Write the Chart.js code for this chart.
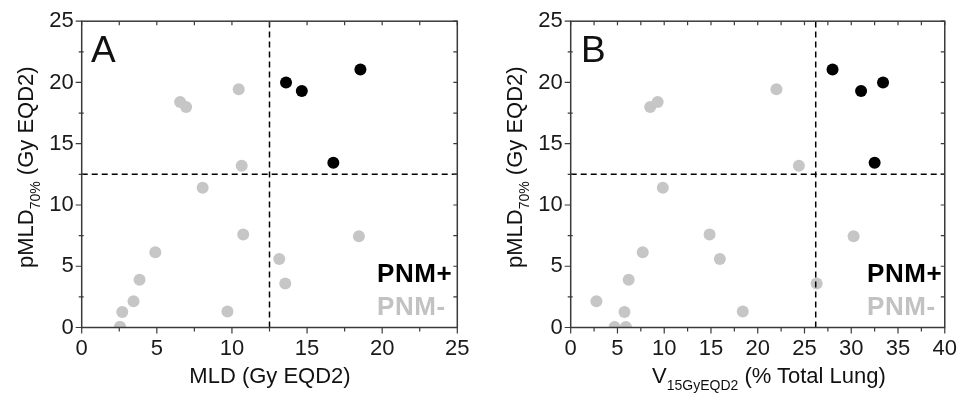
<!DOCTYPE html>
<html>
<head>
<meta charset="utf-8">
<script src="https://cdn.jsdelivr.net/npm/chart.js@4.4.1/dist/chart.umd.min.js"></script>
<style>
  body { margin: 0; background: #fff; }
  #wrap { position: relative; width: 965px; height: 396px; overflow: hidden;
          font-family: "Liberation Sans", Arial, sans-serif; color: #111; }
  canvas { position: absolute; top: 0; }
  .lbl { position: absolute; white-space: nowrap; line-height: 1; }
  .panel { font-size: 37px; }
  .pnm { font-size: 26px; font-weight: bold; letter-spacing: 0.6px; }
  .plus { color: #000; }
  .minus { color: #c2c2c2; }
  .xt { font-size: 22px; }
  .yt { font-size: 22px; transform: rotate(-90deg); transform-origin: left top; }
  sub { font-size: 14px; vertical-align: -7px; line-height: 0; }
</style>
</head>
<body>
<div id="wrap">
  <canvas id="chartA" width="482" height="396" style="left:0"></canvas>
  <canvas id="chartB" width="483" height="396" style="left:482px"></canvas>

  <div class="lbl panel" style="left:91px; top:31px;">A</div>
  <div class="lbl panel" style="left:581px; top:31px;">B</div>

  <div class="lbl pnm plus" style="left:377px; top:260px;">PNM+</div>
  <div class="lbl pnm minus" style="left:377px; top:293px;">PNM-</div>
  <div class="lbl pnm plus" style="left:867px; top:260px;">PNM+</div>
  <div class="lbl pnm minus" style="left:867px; top:293px;">PNM-</div>

  <div class="lbl xt" style="left:270px; top:365px; transform:translateX(-50%);">MLD (Gy EQD2)</div>
  <div class="lbl xt" style="left:652px; top:365px;">V<sub>15GyEQD2</sub> (% Total Lung)</div>

  <div class="lbl yt" style="left:15px; top:268px;">pMLD<sub>70%</sub> (Gy EQD2)</div>
  <div class="lbl yt" style="left:504px; top:268px;">pMLD<sub>70%</sub> (Gy EQD2)</div>
</div>

<script>
// pMLD70% values (Gy EQD2), shared by both panels
let pnmPlusY = [20.0, 19.3, 21.05, 13.45];
let pnmMinusY = [18.4, 18.0, 19.45, 13.2, 11.4, 7.6, 7.45, 6.15, 5.6, 3.9, 3.6, 2.15, 1.27, 1.3, 0.05, 0.05];

// panel A: MLD (Gy EQD2)
let pnmPlusMld = [13.6, 14.65, 18.55, 16.75];
let pnmMinusMld = [6.55, 6.95, 10.45, 10.65, 8.05, 10.75, 18.45, 4.9, 13.15, 3.85, 13.55, 3.45, 2.7, 9.7, 2.55, 2.55];

// panel B: V15GyEQD2 (% total lung)
let pnmPlusV15 = [33.4, 31.05, 28.0, 32.5];
let pnmMinusV15 = [9.3, 8.5, 22.0, 24.4, 9.85, 14.85, 30.25, 7.7, 15.95, 6.2, 26.3, 2.75, 5.75, 18.4, 4.7, 5.9];

// cut-off values (dashed lines)
let yCutoff = 12.5;
let mldCutoff = 12.5;
let v15Cutoff = 26.2;

// axis ranges
let yMax = 25;
let mldMax = 25;
let v15Max = 40;

let axisColor = '#3a3a3a';

function toPoints(xs, ys) {
    return xs.map((x, i) => ({ x: x, y: ys[i] }));
}

// draws the box around the plot and the small tick marks
const frameTicks = {
    id: 'frameTicks',
    afterDatasetsDraw(chart) {
        const ctx = chart.ctx;
        const a = chart.chartArea;
        const x = chart.scales.x;
        const y = chart.scales.y;
        ctx.save();
        ctx.strokeStyle = axisColor;
        ctx.lineWidth = 1.5;
        ctx.strokeRect(a.left, a.top, a.right - a.left, a.bottom - a.top);
        ctx.lineWidth = 1.2;
        ctx.beginPath();
        x.ticks.forEach(t => {
            let px = x.getPixelForValue(t.value);
            let major = t.value % 5 === 0;
            ctx.moveTo(px, a.bottom);
            ctx.lineTo(px, a.bottom + (major ? 6 : 4));
            ctx.moveTo(px, a.top);
            ctx.lineTo(px, a.top + 4);
        });
        y.ticks.forEach(t => {
            let py = y.getPixelForValue(t.value);
            let major = t.value % 5 === 0;
            ctx.moveTo(a.left - (major ? 6 : 3), py);
            ctx.lineTo(a.left + (major ? 0 : 2), py);
            ctx.moveTo(a.right, py);
            ctx.lineTo(a.right - 4, py);
        });
        ctx.stroke();
        ctx.restore();
    }
};

function makeChart(id, plusX, minusX, xCut, xMax, left, right) {
    let ctx = document.getElementById(id).getContext('2d');
    return new Chart(ctx, {
        type: 'scatter',
        data: {
            datasets: [
                {
                    label: 'cut-off x',
                    data: [{ x: xCut, y: 0 }, { x: xCut, y: yMax }],
                    showLine: true, borderColor: '#000', borderWidth: 1.5,
                    borderDash: [6, 4], pointRadius: 0, order: 1
                },
                {
                    label: 'cut-off y',
                    data: [{ x: 0, y: yCutoff }, { x: xMax, y: yCutoff }],
                    showLine: true, borderColor: '#000', borderWidth: 1.5,
                    borderDash: [6, 4], pointRadius: 0, order: 1
                },
                {
                    label: 'PNM+',
                    data: toPoints(plusX, pnmPlusY),
                    backgroundColor: '#000', borderWidth: 0,
                    pointRadius: 6, order: 2
                },
                {
                    label: 'PNM-',
                    data: toPoints(minusX, pnmMinusY),
                    backgroundColor: '#c6c6c6', borderWidth: 0,
                    pointRadius: 6, order: 3
                }
            ]
        },
        options: {
            responsive: false,
            animation: false,
            devicePixelRatio: 1,
            layout: { padding: { left: 0, right: right, top: 19, bottom: 0 } },
            plugins: { legend: { display: false }, tooltip: { enabled: false } },
            scales: {
                x: {
                    type: 'linear', min: 0, max: xMax,
                    grid: { display: false, drawTicks: false },
                    border: { display: false },
                    ticks: {
                        stepSize: 2.5, autoSkip: false, maxRotation: 0, padding: 8,
                        color: '#1a1a1a',
                        font: { family: '"Liberation Sans", Arial, sans-serif', size: 22 },
                        callback: v => (v % 5 === 0 ? v : '')
                    },
                    afterFit: s => { s.height = 68.5; }
                },
                y: {
                    type: 'linear', min: 0, max: yMax,
                    grid: { display: false, drawTicks: false },
                    border: { display: false },
                    ticks: {
                        stepSize: 2.5, autoSkip: false, padding: 8,
                        color: '#1a1a1a',
                        font: { family: '"Liberation Sans", Arial, sans-serif', size: 22 },
                        callback: v => (v % 5 === 0 ? v : '')
                    },
                    afterFit: s => { s.width = left; }
                }
            }
        },
        plugins: [frameTicks]
    });
}

makeChart('chartA', pnmPlusMld, pnmMinusMld, mldCutoff, mldMax, 81.7, 24.7);
makeChart('chartB', pnmPlusV15, pnmMinusV15, v15Cutoff, v15Max, 88.7, 16.7);
</script>
</body>
</html>
